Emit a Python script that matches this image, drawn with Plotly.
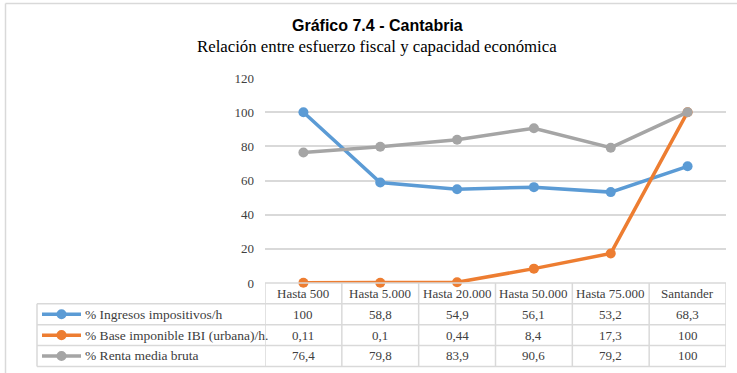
import plotly.graph_objects as go

# Municipality size groups and the three indicators (Cantabria)
categories = ["Hasta 500", "Hasta 5.000", "Hasta 20.000", "Hasta 50.000", "Hasta 75.000", "Santander"]
ingresos = [100, 58.8, 54.9, 56.1, 53.2, 68.3]
base_ibi = [0.11, 0.1, 0.44, 8.4, 17.3, 100]
renta = [76.4, 79.8, 83.9, 90.6, 79.2, 100]

series_names = ["% Ingresos impositivos/h", "% Base imponible IBI (urbana)/h.", "% Renta media bruta"]
series_values = [ingresos, base_ibi, renta]
series_colors = ["#5B9BD5", "#ED7D31", "#A5A5A5"]
y_ticks = [0, 20, 40, 60, 80, 100, 120]

W, H = 737, 373
PL, PR, PT, PB = 265, 726, 78.2, 282.7   # plot area in pixels
PW, PH = PR - PL, PB - PT


def px(x):
    return (x - PL) / PW


def py(y):
    return (PB - y) / PH


def fmt(v):
    return f"{v:g}".replace(".", ",")


SERIF = "Liberation Serif"
GRID = "#D9D9D9"
TXT = "#404040"

fig = go.Figure()
for name, vals, col in zip(series_names, series_values, series_colors):
    fig.add_trace(go.Scatter(
        x=list(range(len(categories))), y=vals, name=name,
        mode="lines+markers", cliponaxis=False,
        line=dict(color=col, width=3.5),
        marker=dict(color=col, size=10),
    ))

shapes = []
annotations = []


def note(x, y, text, xref="paper", xanchor="center", size=13, family=SERIF, color=TXT):
    annotations.append(dict(x=x, y=y, xref=xref, yref="paper", text=text, showarrow=False,
                            xanchor=xanchor, yanchor="middle",
                            font=dict(family=family, size=size, color=color)))


# Outer chart frame (top and left edges visible)
shapes.append(dict(type="line", xref="paper", yref="paper", x0=px(5.5), x1=px(740),
                   y0=py(4), y1=py(4), line=dict(color=GRID, width=1.5)))
shapes.append(dict(type="line", xref="paper", yref="paper", x0=px(5.5), x1=px(5.5),
                   y0=py(4), y1=py(380), line=dict(color=GRID, width=1.5)))

# Data table below the plot
row_h = 20.8
header_top = PB
rows_top = header_top + row_h
table_bottom = rows_top + 3 * row_h
legend_left = 37
n = len(categories)

# horizontal lines
shapes.append(dict(type="line", xref="paper", yref="paper", x0=0, x1=1,
                   y0=py(header_top), y1=py(header_top), line=dict(color=GRID, width=1.5)))
for k in range(4):
    yy = rows_top + k * row_h
    shapes.append(dict(type="line", xref="paper", yref="paper", x0=px(legend_left), x1=1,
                       y0=py(yy), y1=py(yy), line=dict(color=GRID, width=1.5)))
# vertical lines
shapes.append(dict(type="line", xref="paper", yref="paper", x0=px(legend_left), x1=px(legend_left),
                   y0=py(rows_top), y1=py(table_bottom), line=dict(color=GRID, width=1.5)))
for i in range(n + 1):
    shapes.append(dict(type="line", xref="x", yref="paper", x0=i - 0.5, x1=i - 0.5,
                       y0=py(header_top), y1=py(table_bottom), line=dict(color=GRID, width=1.5)))

# header text
for i, c in enumerate(categories):
    note(i, py(header_top + row_h / 2), c, xref="x")

# rows: legend key + name + values
for r, (name, vals, col) in enumerate(zip(series_names, series_values, series_colors)):
    yc = rows_top + r * row_h + row_h / 2
    shapes.append(dict(type="line", xref="paper", yref="paper", x0=px(42), x1=px(81),
                       y0=py(yc), y1=py(yc), line=dict(color=col, width=3.5)))
    shapes.append(dict(type="circle", xref="paper", yref="paper", x0=px(56.5), x1=px(66.5),
                       y0=py(yc + 5), y1=py(yc - 5), fillcolor=col, line=dict(color=col, width=0)))
    note(px(83), py(yc), name, xanchor="left", size=13.5)
    for i, v in enumerate(vals):
        note(i, py(yc), fmt(v), xref="x")

# titles
note(px(377), py(25.5), "<b>Gráfico 7.4 - Cantabria</b>", size=16, color="#000000",
     family="Liberation Sans Narrow, Arial Narrow, Liberation Sans, Arial")
note(px(376.5), py(46.5), "Relación entre esfuerzo fiscal y capacidad económica", size=16.8,
     color="#000000")

fig.update_layout(
    width=W, height=H,
    margin=dict(l=PL, r=W - PR, t=PT, b=H - PB, pad=0),
    paper_bgcolor="white", plot_bgcolor="white",
    showlegend=False,
    shapes=shapes, annotations=annotations,
    xaxis=dict(range=[-0.5, n - 0.5], showgrid=False, zeroline=False,
               showticklabels=False, showline=False, fixedrange=True),
    yaxis=dict(range=[0, 120], tickvals=y_ticks, showgrid=True, gridcolor=GRID, gridwidth=1.5,
               zeroline=False, showline=False, ticklabelstandoff=10,
               tickfont=dict(family=SERIF, size=13, color=TXT)),
)

fig.write_html("out.html")
